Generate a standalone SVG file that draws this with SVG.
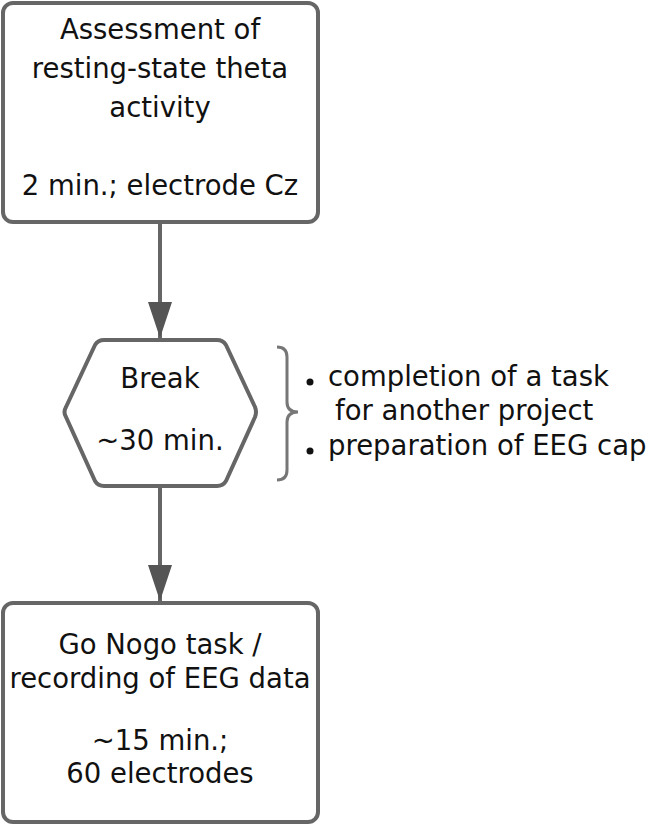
<svg xmlns="http://www.w3.org/2000/svg" width="648" height="826" viewBox="0 0 648 826">
<defs>
<marker id="arr" markerUnits="userSpaceOnUse" markerWidth="36" markerHeight="24" refX="36" refY="12" viewBox="0 0 36 24" orient="auto">
<path d="M0,0 L36,12 L0,24 Z" fill="#555"/>
</marker>
</defs>
<style>
.box{fill:#fff;stroke:#666;stroke-width:4}
.t{font-family:"DejaVu Sans",Verdana,sans-serif;font-size:27.5px;fill:#111;text-anchor:middle}
.n{font-family:"DejaVu Sans",Verdana,sans-serif;font-size:27.5px;fill:#111}
.c{stroke:#666;stroke-width:4;fill:none}
</style>
<g id="connectors">
<line class="c" x1="160" y1="222" x2="160" y2="338" marker-end="url(#arr)"/>
<line class="c" x1="160" y1="487" x2="160" y2="601" marker-end="url(#arr)"/>
</g>
<g id="assessment">
<rect class="box" x="3" y="3" width="315" height="219" rx="10"/>
<text class="t" x="160" y="39">Assessment of</text>
<text class="t" x="160" y="78">resting-state theta</text>
<text class="t" x="160" y="117">activity</text>
<text class="t" x="160" y="195">2 min.; electrode Cz</text>
</g>
<g id="break">
<path class="box" stroke-linejoin="round" d="M110,340 L217,340 Q223,340 226,345 L255,407 Q257,412 255,417 L226,481 Q223,486 217,486 L104,486 Q98,486 95,481 L66,417 Q63,412 66,407 L95,345 Q98,340 104,340 Z"/>
<text class="t" x="160" y="388">Break</text>
<text class="t" x="160" y="450">~30 min.</text>
</g>
<g id="notes">
<path d="M277,347 Q287,347 287,357 L287,402 Q287,412 298,412 Q287,412 287,422 L287,470 Q287,480 277,480" fill="none" stroke="#777" stroke-width="3"/>
<circle cx="310" cy="382" r="3.5" fill="#111"/>
<text class="n" x="328" y="386">completion of a task</text>
<text class="n" x="335" y="420">for another project</text>
<circle cx="310" cy="451" r="3.5" fill="#111"/>
<text class="n" x="328" y="455">preparation of EEG cap</text>
</g>
<g id="gonogo">
<rect class="box" x="3" y="603" width="315" height="219" rx="10"/>
<text class="t" x="160" y="654">Go Nogo task /</text>
<text class="t" x="160" y="688">recording of EEG data</text>
<text class="t" x="160" y="750">~15 min.;</text>
<text class="t" x="160" y="783">60 electrodes</text>
</g>
</svg>
